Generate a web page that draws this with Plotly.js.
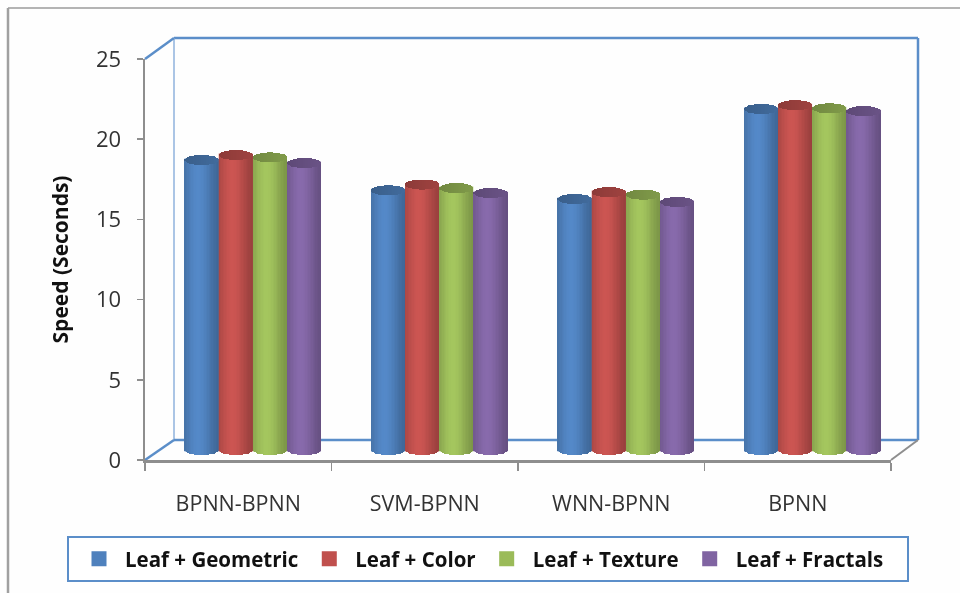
<!DOCTYPE html>
<html><head><meta charset="utf-8">
<script src="https://cdn.plot.ly/plotly-3.0.1.min.js"></script>
<style>html,body{margin:0;padding:0;background:#fff}#c{width:960px;height:593px;filter:blur(0.55px)}</style>
</head><body><div id="c"></div>
<script>
var categories = ["BPNN-BPNN","SVM-BPNN","WNN-BPNN","BPNN"];
var seriesNames = ["Leaf + Geometric","Leaf + Color","Leaf + Texture","Leaf + Fractals"];
var geometric = [18.08,16.19,15.65,21.26];
var color = [18.39,16.55,16.08,21.5];
var texture = [18.24,16.33,15.92,21.3];
var fractals = [17.89,16.02,15.46,21.13];
var seriesColors = [[79,129,189],[192,80,77],[155,187,89],[128,100,162]];
var yTicks = [0,5,10,15,20,25];

var W=960,H=593,L=145,R=891,T=59,B=460;
var catPx=(R-L)/4, unitPx=(B-T)/25;
var depthShift=14.5/catPx, depthBase=10/unitPx, barW=34.2/catPx, capH=5/unitPx;
var px=function(x){return (x-L)/(R-L);}, py=function(y){return (B-y)/(B-T);};
var allSeries=[geometric,color,texture,fractals];
function shade(c,f){return 'rgb('+c.map(function(v){return Math.min(255,Math.round(v*f));}).join(',')+')';}
function bright(u){var d=(u+0.2); return 0.74+0.32*Math.exp(-d*d/0.8);}
var traces=[], N=24;
allSeries.forEach(function(vals,s){
  var off=depthShift+(s-2)*barW;
  traces.push({type:'bar',name:seriesNames[s],x:categories,y:vals,base:depthBase,width:barW*0.9,offset:off+barW*0.05,
    marker:{color:shade(seriesColors[s],1),line:{width:3,color:shade(seriesColors[s],1)}},hoverinfo:'skip'});
  var xs=[],ys=[],bs=[],os=[],ws=[],cs=[];
  vals.forEach(function(v,i){
    for(var k=0;k<N;k++){
      var u=(k+0.5)/N*2-1, e=Math.sqrt(1-u*u), o=off+k/N*barW, w=barW/N*1.3;
      if(k==N-1) w=barW/N;
      xs.push(categories[i]);bs.push(depthBase-capH*e);ys.push(v+capH*e);os.push(o);ws.push(w);cs.push(shade(seriesColors[s],bright(u)));
    }
    for(k=0;k<N;k++){
      var u2=(k+0.5)/N*2-1,e2=Math.sqrt(1-u2*u2),o2=off+k/N*barW,w2=barW/N*1.3;
      if(k==N-1) w2=barW/N;
      xs.push(categories[i]);bs.push(depthBase+v-capH*e2);ys.push(2*capH*e2);os.push(o2);ws.push(w2);cs.push(shade(seriesColors[s],0.78+0.05*u2));
    }
  });
  traces.push({type:'bar',x:xs,y:ys,base:bs,offset:os,width:ws,marker:{color:cs,line:{width:0}},showlegend:false,hoverinfo:'skip'});
});
var blue='#5b8ec9', grey='#8e8e8e';
function line(x0,y0,x1,y1,c,w){return {type:'line',xref:'paper',yref:'paper',x0:px(x0),y0:py(y0),x1:px(x1),y1:py(y1),line:{color:c,width:w},layer:'below'};}
var shapes=[
  line(8,8,960,8,'#b4b4b4',2),
  line(8,8,8,593,'#a0a0a0',2.5),
  line(174,38,918,38,blue,2.5),
  line(918,38,918,440,blue,2.5),
  line(174,38,174,440,'#8fb2dc',1.5),
  line(174,440,918,440,blue,2.5),
  line(145,59,174,38,blue,2.5),
  line(145,460,174,440,blue,2.5),
  line(891,460,918,440,grey,2),
  {type:'rect',xref:'paper',yref:'paper',x0:px(68),x1:px(908),y0:py(537),y1:py(581),line:{color:blue,width:2},fillcolor:'#fff',layer:'below'}
];
var fam='"Open Sans", Lato, sans-serif';
var layout={width:W,height:H,paper_bgcolor:'#fefefe',plot_bgcolor:'rgba(0,0,0,0)',showlegend:true,barmode:'overlay',bargap:0,
  margin:{l:L,r:W-R,t:T,b:H-B,pad:0},
  font:{family:fam,color:'#222'},
  xaxis:{type:'category',categoryorder:'array',categoryarray:categories,range:[-0.5,3.5],tickson:'boundaries',showgrid:false,zeroline:false,
    showline:true,linecolor:grey,linewidth:2.5,ticks:'outside',ticklen:8,tickcolor:grey,tickwidth:1.5,tickfont:{size:21.5,color:'#333'},ticklabelstandoff:23},
  yaxis:{range:[0,25],tickmode:'array',tickvals:yTicks,showgrid:false,zeroline:false,showline:true,linecolor:grey,linewidth:2.5,ticks:'outside',ticklen:6,tickcolor:grey,tickwidth:1.5,
    tickfont:{size:22,color:'#333'},ticklabelstandoff:11,title:{text:'<b>Speed (Seconds)</b>',font:{size:21,color:'#111'},standoff:22}},
  legend:{orientation:'h',x:px(73),xanchor:'left',y:py(559),yanchor:'middle',bgcolor:'rgba(0,0,0,0)',borderwidth:0,font:{size:20.5,weight:700,color:'#111'},traceorder:'normal',itemwidth:42},
  shapes:shapes};
Plotly.newPlot('c',traces,layout,{displayModeBar:false,staticPlot:true});
</script></body></html>
